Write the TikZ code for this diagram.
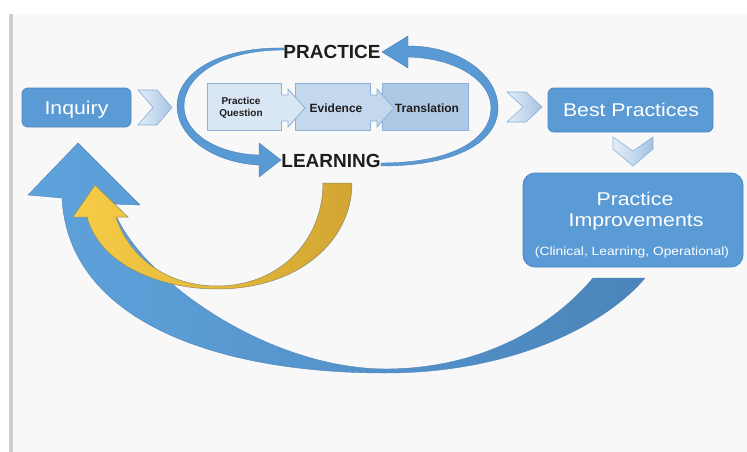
\documentclass[tikz,border=0pt]{standalone}
\usepackage{fontspec}
\setmainfont{Liberation Sans}
\newfontfamily\widesans[FakeStretch=1.15]{Liberation Sans}
\definecolor{bg}{HTML}{F8F8F8}
\definecolor{rule}{HTML}{CDCDCD}
\definecolor{boxblue}{HTML}{5B9BD5}
\definecolor{boxedge}{HTML}{4A86BF}
\definecolor{arcblue}{HTML}{5A9AD4}
\definecolor{arcedge}{HTML}{4A80B5}
\definecolor{chevL}{HTML}{E4EEF8}
\definecolor{chevR}{HTML}{A5C3E3}
\definecolor{chevedge}{HTML}{8AAFD6}
\definecolor{pqfill}{HTML}{D9E6F3}
\definecolor{evfill}{HTML}{C3D7ED}
\definecolor{trfill}{HTML}{AEC8E5}
\definecolor{inneredge}{HTML}{8DB1D7}
\definecolor{yelL}{HTML}{F7CC46}
\definecolor{yelR}{HTML}{D2A532}
\definecolor{yeledge}{HTML}{8F8A68}
\definecolor{bigL}{HTML}{5FA3DC}
\definecolor{bigR}{HTML}{4A84BA}
\definecolor{bigedge}{HTML}{4C85BB}
\definecolor{ink}{HTML}{1E1E1E}
\begin{document}
\begin{tikzpicture}[x=1pt,y=-1pt,
  every node/.style={inner sep=0pt,outer sep=0pt},
  mainbox/.style={draw=boxedge,fill=boxblue,line width=0.8pt,rounded corners=6pt},
  biglabel/.style={text=white,anchor=base,font=\widesans\fontsize{18.5}{21}\selectfont},
  smalllabel/.style={text=white,anchor=base,font=\widesans\fontsize{12}{14}\selectfont},
  loopword/.style={text=ink,anchor=base,font=\bfseries\fontsize{19}{22}\selectfont},
  stepbox/.style={draw=inneredge,line width=0.8pt},
  steptext/.style={text=ink,font=\bfseries\fontsize{12}{14}\selectfont},
  chevron/.style={draw=chevedge,line width=0.6pt,left color=chevL,right color=chevR},
  loopshape/.style={fill=arcblue,draw=arcedge,line width=0.4pt},
  linkarrow/.style={draw=inneredge,line width=0.8pt}]

% canvas: white margin, slide area with a grey left edge
\useasboundingbox (0,0) rectangle (747,452);
\fill[white] (0,0) rectangle (747,452);
\fill[bg] (9,14) rectangle (747,452);
\fill[rule] (9,14) rectangle (12.5,452);

% outer feedback loop (improvements back to inquiry)
\shade[left color=bigL,right color=bigR,draw=bigedge,line width=0.4pt]
  (78,143) -- (28,195) -- (62,198)
  .. controls (68,320) and (215,373) .. (385,373)
  .. controls (520,373) and (610,320) .. (645,278)
  -- (593,278)
  .. controls (545,335) and (470,369) .. (385,369)
  .. controls (260,368) and (130,270) .. (112,204)
  -- (140,205) -- cycle;

% inner feedback loop (learning back to inquiry)
\shade[left color=yelL,right color=yelR,draw=yeledge,line width=0.5pt]
  (95,185) -- (73,217) -- (87,217)
  .. controls (100,265) and (160,289) .. (217,289)
  .. controls (300,289) and (352,240) .. (352,183)
  -- (323,183)
  .. controls (323,240) and (280,286) .. (217,286)
  .. controls (170,286) and (130,260) .. (116,217)
  -- (128,217) -- cycle;

% practice / learning cycle
\path[loopshape]
  (284,48) .. controls (215,47) and (177,75) .. (177,106)
  .. controls (177,138) and (215,163) .. (259,165)
  -- (259,177) -- (281,160) -- (259,143) -- (259,155)
  .. controls (218,154) and (184,134) .. (184,106)
  .. controls (184,78) and (218,50) .. (284,50) -- cycle;
\path[loopshape]
  (381,166) .. controls (460,166) and (498,140) .. (498,108)
  .. controls (498,75) and (460,46) .. (408,46)
  -- (408,36) -- (382,52) -- (408,68) -- (408,57)
  .. controls (455,58) and (491,80) .. (491,108)
  .. controls (491,136) and (458,163) .. (381,163) -- cycle;

\node[loopword] (practice) at (332,58.3) {PRACTICE};
\node[loopword] (learning) at (331,167) {LEARNING};

% main stages
\node[mainbox,minimum width=109pt,minimum height=39pt] (inquiry) at (76.5,107.5) {};
\node[biglabel] (inquirytext) at (76.5,114) {Inquiry};

\node[mainbox,minimum width=165pt,minimum height=44pt] (best) at (630.5,110) {};
\node[biglabel] (besttext) at (631,116.7) {Best Practices};

\node[mainbox,rounded corners=12pt,minimum width=220pt,minimum height=94pt] (impr) at (633,220) {};
\node[biglabel] (imprA) at (635,205) {Practice};
\node[biglabel] (imprB) at (636,226) {Improvements};
\node[smalllabel] (imprC) at (632,255) {(Clinical, Learning, Operational)};

% steps inside the cycle
\node[stepbox,fill=pqfill,minimum width=74pt,minimum height=47pt] (pq) at (244,106.5) {};
\node[stepbox,fill=evfill,minimum width=75pt,minimum height=47pt] (ev) at (332.5,106.5) {};
\node[stepbox,fill=trfill,minimum width=86pt,minimum height=47pt] (tr) at (425,106.5) {};

\path[linkarrow,fill=pqfill]
  (pq.east |- 0,95) -- (288,95) -- (288,89) -- (305,108) -- (288,127) -- (288,121) -- (pq.east |- 0,121);
\path[linkarrow,fill=evfill]
  (ev.east |- 0,95) -- (377,95) -- (377,89) -- (394,108) -- (377,127) -- (377,121) -- (ev.east |- 0,121);

\node[steptext,align=center,font=\bfseries\fontsize{10}{12}\selectfont] (pqtext) at (241,108) {Practice\\Question};
\node[steptext,anchor=base] (evtext) at (336,112.3) {Evidence};
\node[steptext,anchor=base] (trtext) at (427,112.3) {Translation};

% chevrons between stages
\path[chevron] (138,90) -- (157,90) -- (172,107.5) -- (157,125) -- (138,125) -- (153,107.5) -- cycle;
\path[chevron] (507,92) -- (526,92) -- (542,107) -- (526,122) -- (507,122) -- (523,107) -- cycle;
\path[chevron] (613,137) -- (633,151) -- (653,137) -- (653,149) -- (633,166) -- (613,149) -- cycle;

\end{tikzpicture}
\end{document}
